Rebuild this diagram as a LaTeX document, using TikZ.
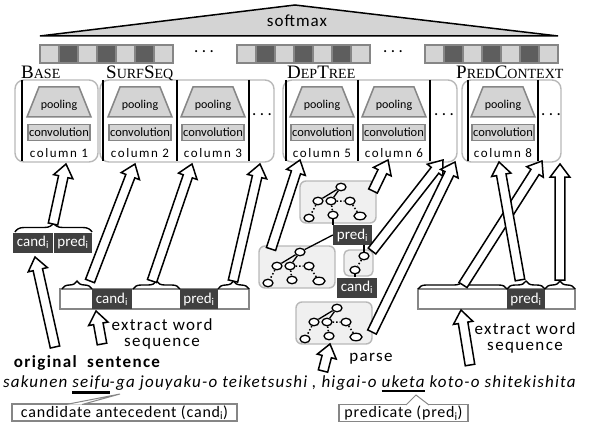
\documentclass[tikz,border=0pt]{standalone}
\usepackage{fontspec}
\setmainfont{Carlito}
\newfontfamily\catfont{Liberation Serif}
\usetikzlibrary{calc,shapes.geometric,decorations.pathreplacing}

\definecolor{lightcell}{HTML}{D4D4D4}
\definecolor{darkcell}{HTML}{5E5E5E}
\definecolor{edgegray}{HTML}{868686}
\definecolor{boxgray}{HTML}{B8B8B8}
\definecolor{treefill}{HTML}{F0F0F0}
\definecolor{labelbg}{HTML}{404040}

% fake small caps for the column group names
\newcommand\catname[2]{{\catfont\fontsize{19}{19}\selectfont #1\fontsize{14}{14}\selectfont #2}}
% thick underline in the sentence
\newcommand\thickul[1]{\vtop{\hbox{#1}\kern2.5pt\hrule height 2.6pt}}
% outline arrow from #1 to #2
\newcommand\hollowarrow[2]{%
  \coordinate (ha) at ($(#2)!13pt!(#1)$);
  \draw[hollow] ($(#1)!4.8pt!90:(#2)$) -- ($(ha)!4.8pt!-90:(#1)$)
    -- ($(ha)!9.8pt!-90:(#1)$) -- (#2) -- ($(ha)!9.8pt!90:(#1)$)
    -- ($(ha)!4.8pt!90:(#1)$) -- ($(#1)!4.8pt!-90:(#2)$) -- cycle;}
% dependency tree in a grey box, root at (#2,#3)
\newcommand\deptree[3]{%
  \begin{scope}[shift={(#2,#3)}]
    \node[treebox] (#1box) at (-3,15) {};
    \node[tn] (#1r) at (0,0) {};
    \node[tn] (#1a) at (-23,14) {};
    \node[tn] (#1b) at (-10,14) {};
    \node[tn] (#1c) at (9,14) {};
    \node[tn] (#1d) at (-32,31) {};
    \node[tn] (#1e) at (-8,28) {};
    \node[tn, minimum width=12pt] (#1f) at (19,29) {};
    \draw[line width=1.3pt] (#1r) -- (#1a) (#1r) -- (#1b);
    \draw[treedot] (#1b) -- (#1c) (#1a) -- (#1d) (#1b) -- (#1e) (#1c) -- (#1f);
  \end{scope}}

\tikzset{
  hollow/.style={draw, fill=white, line width=1.5pt},
  cell/.style={draw=edgegray, line width=1.5pt},
  grp/.style={draw=boxgray, line width=1.4pt, rounded corners=9pt},
  sep/.style={line width=1.4pt},
  poolshape/.style={draw=edgegray, fill=lightcell, line width=1.5pt},
  pooltxt/.style={inner sep=0pt, font=\fontsize{12}{12}\selectfont},
  conv/.style={draw=edgegray, fill=lightcell, line width=1.8pt, minimum width=62pt,
    minimum height=16pt, inner sep=0pt, font=\fontsize{12.5}{12.5}\selectfont},
  collab/.style={inner sep=0pt, font=\fontsize{13}{13}\selectfont\addfontfeature{LetterSpace=12}},
  dotsl/.style={inner sep=0pt, font=\fontsize{17}{17}\selectfont\addfontfeature{LetterSpace=20}},
  bar/.style={draw=edgegray, line width=1.4pt, fill=white},
  darklbl/.style={fill=labelbg, text=white, inner sep=0pt, minimum height=20pt,
    font=\fontsize{15}{15}\selectfont},
  bump/.style={decorate, decoration={brace, amplitude=8pt}, line width=1.4pt},
  treebox/.style={draw=boxgray, fill=treefill, line width=1.4pt, rounded corners=6pt,
    minimum width=76pt, minimum height=42pt, inner sep=0pt},
  tn/.style={ellipse, draw, fill=white, line width=1.3pt, minimum width=10pt,
    minimum height=7.5pt, inner sep=0pt},
  treedot/.style={line width=1.5pt, dotted},
  bigtxt/.style={inner sep=0pt, font=\fontsize{17}{16}\selectfont\addfontfeature{LetterSpace=8}},
  note/.style={draw=edgegray, line width=1.3pt, inner sep=0pt, minimum height=17pt,
    font=\fontsize{16}{16}\selectfont\addfontfeature{LetterSpace=5}},
  pointer/.style={draw=edgegray, fill=white, line width=1pt}
}

\begin{document}
\begin{tikzpicture}[x=1pt,y=-1pt]
\useasboundingbox (0,0) rectangle (596,422);

% softmax
\draw[fill=lightcell, line width=1.5pt] (40,36) -- (295,5) -- (558,36) -- cycle;
\node[inner sep=0pt, font=\fontsize{17}{17}\selectfont\addfontfeature{LetterSpace=6}] (softmax) at (297,21) {softmax};

% feature vector
\foreach \g in {40,237,425}
  \foreach \i/\c in {0/lightcell,1/darkcell,2/lightcell,3/darkcell,4/lightcell,5/darkcell,6/lightcell}
    \draw[cell, fill=\c] (\g+\i*19,45) rectangle ++(19,18);
\node[dotsl] (fdots1) at (204,52) {...};
\node[dotsl] (fdots2) at (393,52) {...};

% column groups
\draw[grp] (15,80) rectangle (98,162);
\draw[grp] (100,80) rectangle (274,162);
\draw[grp] (283,80) rectangle (457,162);
\draw[grp] (462,80) rectangle (561,162);
\foreach \x in {22,103,177,249,286,358,430,468,538}
  \draw[sep] (\x,80) -- (\x,161);
\node[anchor=base west, inner sep=0pt] (base) at (21,79) {\catname{B}{ASE}};
\node[anchor=base west, inner sep=0pt] (surfseq) at (106,79) {\catname{S}{URF}\catname{S}{EQ}};
\node[anchor=base west, inner sep=0pt] (deptree) at (287,79) {\catname{D}{EP}\catname{T}{REE}};
\node[anchor=base west, inner sep=0pt] (predcontext) at (456,79) {\catname{P}{RED}\catname{C}{ONTEXT}};

\foreach \n/\x in {1/59,2/140,3/213,5/322,6/394,8/503}{
  \draw[poolshape] (\x-32,117) -- (\x-20,87) -- (\x+20,87) -- (\x+32,117) -- cycle;
  \node[pooltxt] (pool\n) at (\x,105) {pooling};
  \node[conv] (conv\n) at (\x,132.5) {convolution};
  \node[collab] (col\n) at (\x,153) {column \n};
}
\node[dotsl] (sdots) at (262,115) {...};
\node[dotsl] (ddots) at (444,115) {...};
\node[dotsl] (pdots) at (551,115) {...};

% Base input
\node[darklbl, minimum width=40pt] (bcand) at (33,242.5) {cand\textsubscript{i}};
\node[darklbl, minimum width=38pt] (bpred) at (73,242.5) {pred\textsubscript{i}};
\draw[bump, decoration={amplitude=9pt}] (15,232) -- (92,232);

% SurfSeq input
\draw[bar] (60,289) rectangle (249,309);
\node[darklbl, minimum width=40pt] (scand) at (112,299) {cand\textsubscript{i}};
\node[darklbl, minimum width=38pt] (spred) at (199,299) {pred\textsubscript{i}};
\draw[bump] (62,289) -- (92,289);
\draw[bump] (133,289) -- (180,289);
\draw[bump] (218,289) -- (249,289);

% DepTree input
\deptree{tt}{341}{187}
\deptree{mt}{300}{252}
\deptree{bt}{337}{308}
\node[darklbl, minimum width=39pt] (tpred) at (352.5,235) {pred\textsubscript{i}};
\draw[grp, rounded corners=5pt, fill=treefill] (344,250) rectangle (373,276);
\node[tn] (sa) at (364,256) {};
\node[tn] (sb) at (355,270) {};
\draw[treedot] (sa) -- (sb);
\node[darklbl, minimum width=40pt] (tcand) at (357,287.5) {cand\textsubscript{i}};
\draw[line width=1.3pt] (tte) -- (tte |- tpred.north);
\draw[line width=1.3pt] (tpred.west) -- (mtr);
\draw[line width=1.3pt] (sa) -- (sa |- tpred.south);
\draw[line width=1.3pt] (sb) -- (sb |- tcand.north);

% PredContext input
\draw[bar] (418,289) rectangle (575,309);
\node[darklbl, minimum width=38pt] (ppred) at (526,299) {pred\textsubscript{i}};
\draw[bump] (418,289) -- (507,289);
\draw[bump] (507,289) -- (545,289);
\draw[bump] (545,289) -- (575,289);

% arrow ends
\coordinate (s1) at (53,224);  \coordinate (e1) at (66,164);
\coordinate (s2) at (90,281);  \coordinate (e2) at (135,164);
\coordinate (s3) at (152,281); \coordinate (e3) at (192,164);
\coordinate (s4) at (233,281); \coordinate (e4) at (260,164);
\coordinate (s5) at (271,249); \coordinate (e5) at (300,160);
\coordinate (s6) at (373,191); \coordinate (e6) at (388,160);
\coordinate (s7) at (372,251); \coordinate (e7) at (443,160);
\coordinate (s8) at (372,332); \coordinate (e8) at (455,162);
\coordinate (s9) at (463,285); \coordinate (e9) at (542,161);
\coordinate (s10) at (520,280); \coordinate (e10) at (499,162);
\coordinate (s11) at (560,280); \coordinate (e11) at (560,164);
\coordinate (s12) at (55,347); \coordinate (e12) at (35,257);
\coordinate (s13) at (102,344); \coordinate (e13) at (96,311);
\coordinate (s14) at (470,365); \coordinate (e14) at (461,310);
\coordinate (s15) at (323,371); \coordinate (e15) at (330,344);
\foreach \k in {1,...,15}{
  \hollowarrow{s\k}{e\k}
}

% texts
\node[bigtxt, align=center] (extract1) at (162,334) {extract word\\sequence};
\node[bigtxt, align=center] (extract2) at (525,338) {extract word\\sequence};
\node[bigtxt] (parse) at (371,359) {parse};
\node[bigtxt, font=\fontsize{17}{17}\selectfont\bfseries\addfontfeature{LetterSpace=8}] (orig) at (87,363) {original\ \ sentence};
\node[bigtxt, anchor=base west, font=\fontsize{17}{17}\selectfont\itshape\addfontfeature{LetterSpace=7}] (sentence) at (3,387)
  {sakunen \thickul{seifu}-ga jouyaku-o teiketsushi , higai-o \thickul{uketa} koto-o shitekishita};

% callouts
\node[note, minimum width=225pt] (candnote) at (124.5,412.5) {candidate antecedent (cand\textsubscript{i})};
\node[note, minimum width=129pt] (prednote) at (403.5,413) {predicate (pred\textsubscript{i})};
\filldraw[pointer] (66,404.5) -- (120,394) -- (82,404.5);
\filldraw[pointer] (406,405) -- (416,395) -- (429,405);
\end{tikzpicture}
\end{document}
